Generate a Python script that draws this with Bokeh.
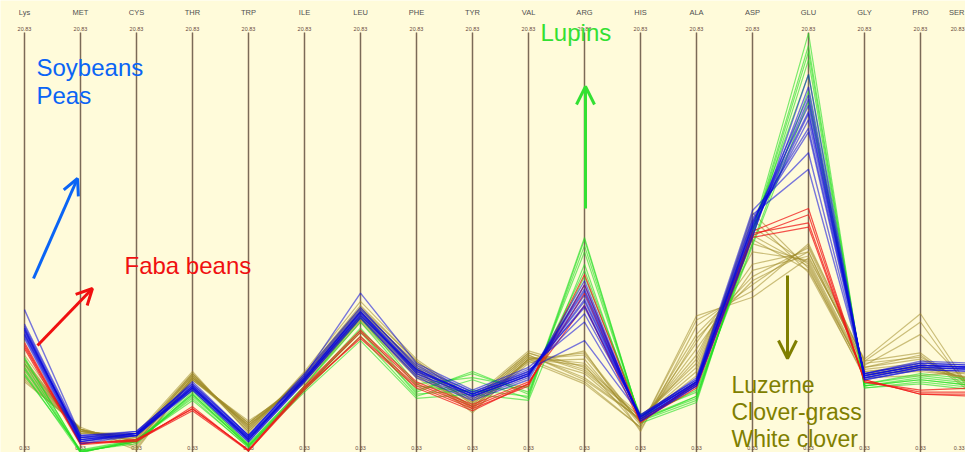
from bokeh.plotting import figure
from bokeh.models import Range1d, Label, Arrow, OpenHead
from bokeh.core.properties import value
from bokeh.embed import file_html
from bokeh.resources import INLINE

amino_acids = ["Lys", "MET", "CYS", "THR", "TRP", "ILE", "LEU", "PHE", "TYR",
               "VAL", "ARG", "HIS", "ALA", "ASP", "GLU", "GLY", "PRO", "SER"]
axis_max = 20.83
axis_min = 0.33

# Luzerne, clover-grass, white clover (olive)
forage_profiles = [
    [4.6, 1.5, 1.2, 4.2, 1.7, 4.1, 7.3, 4.6, 2.8, 5.1, 4.8, 2.0, 5.2, 10.2, 9.8, 4.5, 4.8, 3.9],
    [4.2, 1.6, 1.0, 4.1, 1.8, 4.0, 7.0, 4.4, 2.7, 5.0, 5.2, 1.9, 5.8, 9.6, 10.2, 4.6, 5.0, 3.7],
    [5.0, 1.4, 1.3, 4.3, 1.6, 4.3, 7.6, 4.9, 3.0, 5.3, 4.4, 2.2, 4.6, 11.0, 9.5, 4.3, 4.6, 4.2],
    [3.9, 1.7, 0.7, 4.0, 2.0, 3.8, 6.8, 4.1, 2.5, 4.8, 5.4, 1.5, 6.6, 8.6, 10.5, 4.9, 5.3, 3.3],
    [4.8, 1.5, 1.1, 4.2, 1.5, 4.2, 7.4, 4.7, 2.9, 5.2, 4.1, 2.1, 4.2, 11.8, 9.2, 4.2, 4.5, 4.0],
    [4.4, 1.6, 0.9, 4.1, 1.9, 4.0, 7.1, 4.5, 2.6, 5.0, 3.9, 1.7, 7.1, 8.0, 9.9, 5.0, 7.2, 3.1],
    [5.2, 1.4, 1.4, 4.4, 1.4, 4.4, 7.8, 5.0, 3.1, 5.4, 4.6, 2.3, 3.9, 12.1, 9.4, 4.1, 4.2, 4.4],
    [4.1, 1.6, 0.8, 4.0, 1.8, 3.9, 6.9, 4.2, 2.6, 4.9, 5.0, 1.8, 6.2, 9.0, 10.4, 4.7, 6.2, 3.4],
    [4.7, 1.5, 1.2, 4.2, 1.7, 4.1, 7.3, 4.8, 2.8, 5.1, 4.3, 2.0, 5.0, 10.6, 9.7, 4.4, 4.7, 3.8],
    [4.3, 1.6, 1.0, 4.1, 1.9, 4.0, 7.0, 4.3, 2.7, 5.0, 5.3, 1.9, 5.5, 9.3, 10.0, 4.8, 5.1, 3.6],
    [4.9, 1.5, 1.1, 4.3, 1.6, 4.2, 7.5, 4.6, 2.9, 5.2, 4.0, 2.1, 4.4, 11.4, 9.6, 4.3, 4.4, 4.1],
    [4.5, 1.6, 0.6, 4.1, 1.8, 4.0, 7.1, 4.5, 2.4, 5.0, 4.7, 1.6, 6.0, 8.8, 10.2, 4.6, 5.2, 3.2],
    [4.0, 1.6, 1.0, 4.0, 1.9, 3.9, 6.9, 4.2, 2.7, 4.9, 3.8, 1.7, 6.9, 8.3, 10.6, 4.9, 6.8, 3.0],
    [4.8, 1.5, 1.3, 4.3, 1.5, 4.3, 7.5, 4.9, 3.0, 5.3, 4.5, 2.2, 4.8, 10.8, 9.3, 4.4, 4.6, 4.0],
]

# Lupins (green)
lupin_profiles = [
    [4.6, 0.50, 1.00, 3.3, 0.80, 3.6, 6.5, 3.5, 4.3, 3.4, 10.2, 2.1, 3.2, 10.9, 19.5, 3.7, 4.1, 3.8],
    [4.3, 0.45, 1.10, 3.1, 0.70, 3.5, 6.1, 3.2, 4.0, 3.1, 10.8, 2.0, 3.0, 11.2, 20.8, 3.6, 3.9, 3.6],
    [5.0, 0.55, 0.90, 3.4, 0.90, 3.7, 6.8, 3.7, 3.4, 3.7, 9.3, 2.2, 3.5, 10.6, 18.0, 3.8, 4.2, 3.9],
    [4.8, 0.50, 1.00, 3.2, 0.80, 3.6, 6.3, 3.4, 4.4, 3.3, 10.5, 2.1, 3.1, 11.0, 19.9, 3.7, 4.0, 3.7],
    [4.2, 0.60, 1.10, 3.0, 0.75, 3.4, 5.9, 3.1, 3.3, 3.0, 9.6, 1.9, 2.9, 11.3, 18.8, 3.6, 3.8, 3.5],
    [5.1, 0.50, 1.00, 3.5, 0.85, 3.7, 7.0, 3.8, 4.1, 3.6, 9.0, 2.3, 3.4, 10.5, 17.5, 3.8, 4.3, 4.0],
    [4.5, 0.55, 1.05, 3.3, 0.80, 3.5, 6.4, 3.3, 3.5, 3.2, 10.9, 2.0, 3.2, 11.1, 20.2, 3.7, 4.0, 3.7],
]

# Faba beans (red)
faba_profiles = [
    [5.7, 0.90, 1.10, 2.6, 0.60, 3.6, 6.3, 3.8, 2.7, 3.8, 8.6, 2.0, 3.8, 11.0, 12.0, 3.9, 3.4, 3.4],
    [5.6, 0.95, 1.00, 2.7, 0.55, 3.5, 6.1, 3.7, 2.6, 3.7, 9.1, 2.1, 3.7, 11.1, 11.6, 4.0, 3.3, 3.3],
    [5.8, 0.90, 1.10, 2.6, 0.60, 3.7, 6.4, 3.9, 2.8, 3.9, 7.6, 1.9, 3.9, 11.2, 12.3, 3.9, 3.5, 3.6],
    [5.5, 0.85, 1.05, 2.5, 0.55, 3.6, 6.0, 3.6, 2.5, 3.8, 8.2, 2.0, 3.6, 10.9, 11.4, 4.0, 3.3, 3.2],
]

# Soybeans, peas (blue)
soy_pea_profiles = [
    [6.4, 1.1, 1.4, 3.7, 1.2, 4.1, 7.3, 4.5, 3.3, 4.3, 7.8, 2.2, 3.9, 11.5, 17.0, 4.2, 4.7, 4.6],
    [6.2, 1.0, 1.3, 3.6, 1.1, 4.0, 7.1, 4.3, 3.2, 4.2, 8.4, 2.1, 3.8, 11.2, 17.6, 4.1, 4.6, 4.5],
    [6.6, 1.2, 1.5, 3.8, 1.3, 4.2, 7.4, 4.7, 3.4, 4.4, 7.2, 2.3, 4.0, 11.8, 16.2, 4.3, 4.8, 4.7],
    [6.0, 0.9, 1.3, 3.5, 1.0, 3.9, 7.0, 4.2, 3.1, 4.1, 8.8, 2.0, 3.7, 11.0, 18.2, 4.0, 4.5, 4.4],
    [7.4, 1.3, 1.4, 3.9, 1.3, 4.2, 8.2, 4.8, 3.5, 4.6, 6.8, 2.2, 4.1, 12.2, 15.0, 4.3, 4.9, 4.8],
    [6.5, 1.1, 1.4, 3.6, 1.2, 4.0, 7.2, 4.4, 3.3, 4.3, 7.6, 2.2, 3.9, 11.4, 16.6, 4.2, 4.7, 4.6],
    [6.3, 1.2, 1.3, 3.7, 1.1, 4.1, 7.3, 4.5, 3.2, 4.2, 8.1, 2.1, 3.8, 11.6, 17.3, 4.1, 4.6, 4.5],
    [6.1, 1.0, 1.4, 3.5, 1.0, 3.9, 7.0, 4.1, 3.0, 4.0, 8.6, 2.0, 3.7, 10.9, 18.8, 4.0, 4.5, 4.4],
    [6.7, 1.3, 1.5, 3.8, 1.3, 4.3, 7.5, 4.6, 3.4, 4.5, 5.9, 2.3, 4.0, 12.0, 14.2, 4.3, 4.8, 4.7],
    [6.4, 1.1, 1.3, 3.6, 1.1, 4.0, 7.2, 4.4, 3.3, 4.3, 7.9, 2.2, 3.9, 11.3, 16.9, 4.2, 4.7, 4.6],
    [6.2, 1.2, 1.4, 3.7, 1.2, 4.1, 7.3, 4.3, 3.2, 4.2, 8.3, 2.1, 3.8, 11.5, 17.8, 4.1, 4.6, 4.5],
    [6.5, 1.0, 1.4, 3.6, 1.1, 4.0, 7.1, 4.5, 3.3, 4.4, 7.5, 2.2, 3.9, 11.7, 16.0, 4.2, 4.7, 4.6],
]

# ---- layout ----
W, H = 965, 452
SPACING = 56.0                       # px between axes
PX_PER_UNIT = 423.0 / (axis_max - axis_min)
x0 = -24.0 / SPACING
x1 = x0 + W / SPACING
y_top = axis_max + 32.0 / PX_PER_UNIT
y_bot = y_top - H / PX_PER_UNIT


def px2x(px):
    return x0 + px / SPACING


def px2y(py):
    return y_top - py / PX_PER_UNIT


BG = "#FFFBDA"
FONT = "Liberation Sans"

p = figure(width=W, height=H, x_range=Range1d(x0, x1), y_range=Range1d(y_bot, y_top),
           output_backend="svg", toolbar_location=None, min_border=0,
           x_axis_type=None, y_axis_type=None,
           background_fill_color=BG, border_fill_color=BG, outline_line_color=None)
p.grid.visible = False

idx = list(range(len(amino_acids)))
n_vis = len(amino_acids) - 1        # the last axis sits at the right edge
lab_x = idx[:n_vis] + [px2x(W - 1)]
lab_align = ["center"] * n_vis + ["right"]

# vertical axes
p.segment(x0=idx, y0=[axis_min - 0.3] * len(idx), x1=idx, y1=[axis_max] * len(idx),
          line_color="#D8C8A8", line_width=3, line_alpha=0.6)
p.segment(x0=idx, y0=[axis_min - 0.3] * len(idx), x1=idx, y1=[axis_max] * len(idx),
          line_color="#7A6A58", line_width=1.1)

# axis labels
p.text(x=lab_x, y=[px2y(12)] * len(idx), text=amino_acids, text_align=lab_align,
       text_baseline="middle", text_font_size="7.5px", text_color="#505050",
       text_font=value(FONT))
p.text(x=lab_x, y=[px2y(28)] * len(idx), text=[f"{axis_max:.2f}"] * len(idx),
       text_align=lab_align, text_baseline="middle", text_font_size="5.5px",
       text_color="#6A4A3A", text_font=value(FONT))
p.text(x=lab_x, y=[px2y(447)] * len(idx), text=[f"{axis_min:.2f}"] * len(idx),
       text_align=lab_align, text_baseline="middle", text_font_size="5.5px",
       text_color="#6A4A3A", text_font=value(FONT))

# data lines
groups = [
    (forage_profiles, "#A08C2A", 0.55, 1.2),
    (lupin_profiles, "#22E022", 0.6, 1.2),
    (faba_profiles, "#F01818", 0.75, 1.2),
    (soy_pea_profiles, "#0A0ADC", 0.55, 1.4),
]
for profiles, color, alpha, lw in groups:
    p.multi_line(xs=[idx] * len(profiles), ys=profiles, line_color=color,
                 line_alpha=alpha, line_width=lw)

# annotations
BLUE = "#0A64F5"
RED = "#F01010"
GREEN = "#33E033"
OLIVE = "#7F7F00"


def arrow(xs, ys, xe, ye, color, size):
    p.add_layout(Arrow(end=OpenHead(line_color=color, line_width=3, size=size),
                       x_start=px2x(xs), y_start=px2y(ys), x_end=px2x(xe), y_end=px2y(ye),
                       line_color=color, line_width=3))


arrow(33, 278, 77, 178, BLUE, 16)
arrow(37, 345, 92, 288, RED, 16)
arrow(585, 208, 585, 86, GREEN, 18)
arrow(787, 275, 787, 358, OLIVE, 18)


def label(px, py, txt, color, size="24px"):
    p.add_layout(Label(x=px2x(px), y=px2y(py), text=txt, text_color=color,
                       text_font=FONT, text_font_size=size,
                       text_baseline="middle", text_align="left"))


label(36, 67, "Soybeans", BLUE)
label(36, 95, "Peas", BLUE)
label(124, 265, "Faba beans", RED)
label(540, 32, "Lupins", GREEN)
label(731, 384, "Luzerne", OLIVE, "23px")
label(731, 411, "Clover-grass", OLIVE, "23px")
label(731, 438, "White clover", OLIVE, "23px")

open("out.html", "w").write(file_html(p, INLINE))
